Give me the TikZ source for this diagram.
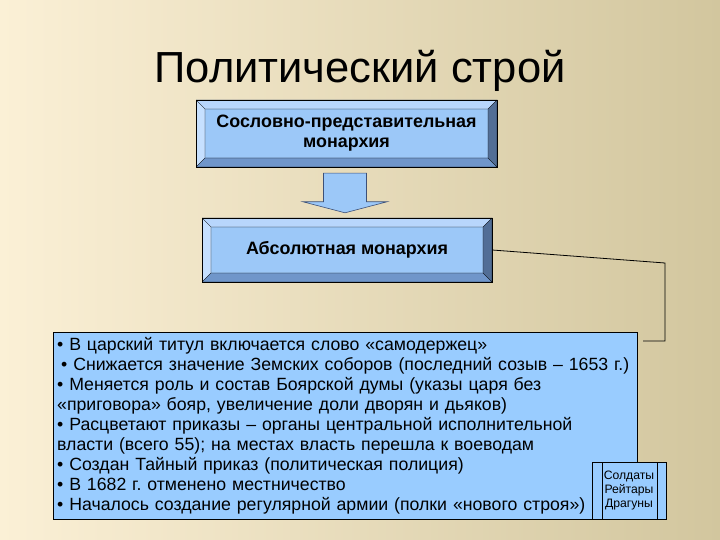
\documentclass[tikz,border=0pt]{standalone}
\usepackage{fontspec}
\setmainfont{Liberation Sans}
\usetikzlibrary{calc}
\frenchspacing

\definecolor{bgleft}{RGB}{251,240,214}
\definecolor{bgmid}{RGB}{238,231,207}
\definecolor{bgright}{RGB}{210,198,158}
\definecolor{face}{RGB}{156,200,248}
\definecolor{bevtop}{RGB}{184,214,252}
\definecolor{bevleft}{RGB}{198,224,255}
\definecolor{bevbottom}{RGB}{112,150,202}
\definecolor{bevright}{RGB}{82,110,150}
\definecolor{listblue}{RGB}{153,204,255}
\definecolor{arrowline}{RGB}{60,80,120}

\tikzset{
  bevelbox/.style={draw=black, fill=face, align=center, inner sep=0pt,
    font=\bfseries\fontsize{17.9}{20}\selectfont,
    path picture={
      \def\b{9pt}
      \coordinate (pnw) at (path picture bounding box.north west);
      \coordinate (pne) at (path picture bounding box.north east);
      \coordinate (psw) at (path picture bounding box.south west);
      \coordinate (pse) at (path picture bounding box.south east);
      \filldraw[bevtop, draw=black, line width=0.3pt] (pnw) -- (pne) -- ($(pne)+(-\b,-\b)$) -- ($(pnw)+(\b,-\b)$) -- cycle;
      \filldraw[bevleft, draw=black, line width=0.3pt] (pnw) -- (psw) -- ($(psw)+(\b,\b)$) -- ($(pnw)+(\b,-\b)$) -- cycle;
      \filldraw[bevbottom, draw=black, line width=0.3pt] (psw) -- (pse) -- ($(pse)+(-\b,\b)$) -- ($(psw)+(\b,\b)$) -- cycle;
      \filldraw[bevright, draw=black, line width=0.3pt] (pne) -- (pse) -- ($(pse)+(-\b,\b)$) -- ($(pne)+(-\b,-\b)$) -- cycle;
    }},
  listbox/.style={draw=black, fill=listblue, align=left, inner xsep=4pt,
    font=\fontsize{17.7}{19.9}\selectfont},
  armybox/.style={draw=black, fill=listblue, align=center, inner sep=0pt,
    minimum width=74pt, minimum height=57pt,
    font=\fontsize{12.2}{14}\selectfont,
    path picture={
      \draw ($(path picture bounding box.north west)+(10pt,0)$) -- ($(path picture bounding box.south west)+(10pt,0)$);
      \draw ($(path picture bounding box.north east)+(-9pt,0)$) -- ($(path picture bounding box.south east)+(-9pt,0)$);
    }},
  downarrow/.style={fill=face, draw=arrowline, line width=0.6pt, line join=miter},
  link/.style={draw=black, line width=0.8pt}
}

\begin{document}
\begin{tikzpicture}[x=1pt, y=-1pt]

% Background
\useasboundingbox (0,0) rectangle (720,540);
\shade[left color=bgleft, middle color=bgmid, right color=bgright] (0,0) rectangle (720,540);

% Title
\node[anchor=base, font=\fontsize{43.5}{50}\selectfont] (title) at (360,83) {Политический строй};

% Boxes
\node[bevelbox, minimum width=301pt, minimum height=67pt] (smp) at (346.5,133.5)
  {Сословно-представительная\\монархия};
\node[bevelbox, minimum width=290pt, minimum height=64pt] (absm) at (347,250)
  {Абсолютная монархия};

% Block arrow between the boxes
\coordinate (atop) at ($(smp.south)+(-1.5,6)$);
\coordinate (atip) at ($(absm.north)+(-2,-5)$);
\draw[downarrow] ($(atop)+(-21.5,0)$) -- ($(atop)+(21.5,0)$) -- ($(atip)+(21.5,-11)$)
  -- ($(atip)+(42,-11)$) -- (atip) -- ($(atip)+(-42,-11)$) -- ($(atip)+(-21.5,-11)$) -- cycle;

% List of changes
\node[listbox, anchor=north west, minimum width=584pt, minimum height=187pt, text width=576pt] (reforms) at (53,332) {%
• В царский титул включается слово «самодержец»\\
\hspace{4pt}• Снижается значение Земских соборов (последний созыв – 1653 г.)\\
• Меняется роль и состав Боярской думы (указы царя без\\
«приговора» бояр, увеличение доли дворян и дьяков)\\
• Расцветают приказы – органы центральной исполнительной\\
власти (всего 55); на местах власть перешла к воеводам\\
• Создан Тайный приказ (политическая полиция)\\
• В 1682 г. отменено местничество\\
• Началось создание регулярной армии (полки «нового строя»)};

% Army box
\node[armybox] (army) at (629,490.5) {Солдаты\\Рейтары\\Драгуны};

% Connector
\coordinate (bend) at (665,263);
\coordinate (lineend) at (643,341);
\draw[link] (absm.east) -- (bend) |- (lineend);

\end{tikzpicture}
\end{document}
